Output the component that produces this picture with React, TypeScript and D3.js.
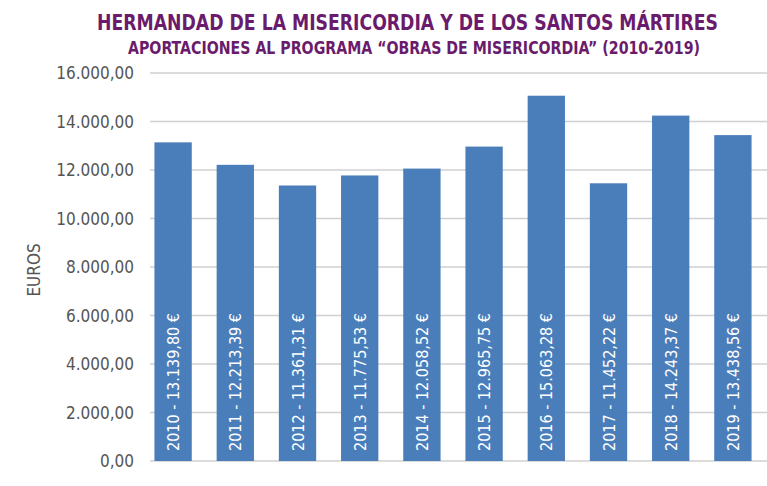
import React from 'react';
import * as d3 from 'd3';

const years = ['2010', '2011', '2012', '2013', '2014', '2015', '2016', '2017', '2018', '2019'];
const values = [13139.8, 12213.39, 11361.31, 11775.53, 12058.52, 12965.75, 15063.28, 11452.22, 14243.37, 13438.56];
const ticks = [0, 2000, 4000, 6000, 8000, 10000, 12000, 14000, 16000];

const W = 767;
const H = 486;
const FONT = '"DejaVu Sans Condensed", "Liberation Sans Narrow", Arial, sans-serif';

const fmt = (v: number, d: number) =>
  v.toLocaleString('de-DE', { minimumFractionDigits: d, maximumFractionDigits: d });

export default function App() {
  const x = d3.scaleBand().domain(years).range([142, 764]).paddingInner(0.4).paddingOuter(0.2);
  const y = d3.scaleLinear().domain([0, 16000]).range([461, 73]);

  return (
    <svg width={W} height={H} style={{ position: 'absolute', left: 0, top: 0, background: '#fff' }}>
      <text x={97} y={30} textLength={621} lengthAdjust="spacingAndGlyphs" fontFamily={FONT} fontWeight="bold" fontSize={22} fill="#6a1b6c">
        HERMANDAD DE LA MISERICORDIA Y DE LOS SANTOS MÁRTIRES
      </text>
      <text x={128} y={54} textLength={572} lengthAdjust="spacingAndGlyphs" fontFamily={FONT} fontWeight="bold" fontSize={17} fill="#6a1b6c">
        APORTACIONES AL PROGRAMA “OBRAS DE MISERICORDIA” (2010-2019)
      </text>
      {ticks.map(t => (
        <g key={t}>
          <line x1={150} x2={767} y1={y(t)} y2={y(t)} stroke="#d0d0d0" strokeWidth={1.5} />
          <text x={134} y={y(t) + 6} textAnchor="end" fontFamily={FONT} fontSize={17} fill="#555">
            {fmt(t, 2)}
          </text>
        </g>
      ))}
      <text transform="translate(40,270) rotate(-90)" textAnchor="middle" fontFamily={FONT} fontSize={17} fill="#555">
        EUROS
      </text>
      {years.map((yr, i) => {
        const bx = x(yr)!;
        const cx = bx + x.bandwidth() / 2;
        return (
          <g key={yr}>
            <rect x={bx} y={y(values[i])} width={x.bandwidth()} height={y(0) - y(values[i])} fill="#4a7ebb" />
            <text transform={`translate(${cx + 6},${y(0) - 10}) rotate(-90)`} fontFamily={FONT} fontSize={16} fill="#fff">
              {`${yr} - ${fmt(values[i], 2)} €`}
            </text>
          </g>
        );
      })}
    </svg>
  );
}
